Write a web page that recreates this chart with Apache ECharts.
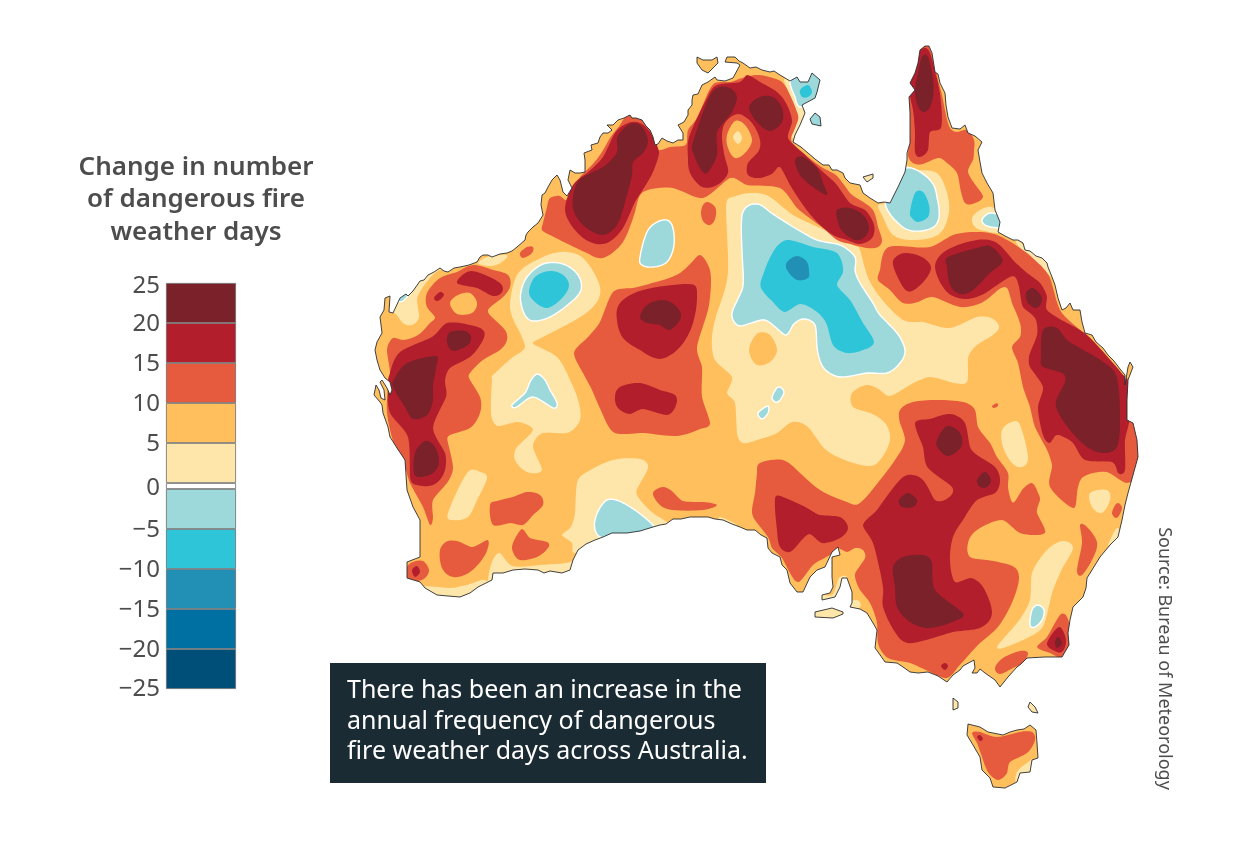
<!DOCTYPE html>
<html>
<head>
<meta charset="utf-8">
<title>Change in number of dangerous fire weather days</title>
<script src="https://cdn.jsdelivr.net/npm/echarts@6/dist/echarts.min.js"></script>
<style>html,body{margin:0;padding:0;background:#fff}#main{width:1247px;height:863px}</style>
</head>
<body>
<div id="main"></div>
<script type="text/javascript">
// legend scale, the white band around zero takes 0.75 of a unit
var tickLabels = ['25', '20', '15', '10', '5', '0', '\u22125', '\u221210', '\u221215', '\u221220', '\u221225'];
var tickValues = [25.375, 20.625, 15.625, 10.625, 5.625, 0.125, -5.125, -10.125, -15.125, -20.125, -25];
var positiveSteps = [0.75, 5, 5, 5, 5, 5];
var negativeSteps = [-5, -5, -5, -5, -5];
var positiveColors = ['#ffffff', '#FEE6AA', '#FEBF5C', '#E65A3D', '#B21E2C', '#7B2129'];
var negativeColors = ['#9DD9DB', '#2FC5D9', '#2290B5', '#0070A3', '#004F78'];

// everything below is in map grid units (about 5 km each), origin at the map's north west corner
var coast = [
  [[5,310],[7,302],[12,293],[10,277],[14,270],[15,258],[20,256],[19,272],[23,273],[30,258],[36,254],[38,256],[43,251],[50,241],[54,240],[58,235],[64,232],[70,228],[74,231],[78,232],[84,228],[90,227],[99,225],[107,222],[110,217],[113,215],[118,215],[122,217],[130,214],[137,213],[142,211],[147,207],[155,200],[156,195],[158,192],[163,187],[168,183],[173,175],[171,165],[172,155],[175,153],[178,147],[182,140],[187,135],[190,140],[193,152],[197,156],[202,148],[198,140],[200,130],[205,133],[210,133],[215,132],[215,120],[214,113],[222,110],[221,105],[228,103],[230,97],[233,93],[238,93],[242,90],[237,85],[243,85],[248,80],[254,78],[260,75],[262,78],[266,78],[272,80],[276,86],[280,90],[283,97],[285,105],[288,104],[292,98],[297,101],[303,103],[308,100],[313,100],[313,93],[308,85],[314,82],[318,75],[318,70],[322,65],[322,60],[323,55],[328,54],[332,45],[338,42],[345,37],[347,40],[355,41],[363,38],[370,25],[367,23],[355,22],[357,17],[365,17],[369,21],[373,23],[380,28],[386,27],[392,30],[400,32],[404,31],[410,35],[420,41],[427,37],[430,42],[438,42],[442,33],[450,40],[447,52],[445,58],[432,65],[435,73],[430,85],[425,95],[423,102],[431,107],[438,113],[445,119],[453,125],[459,125],[462,130],[467,130],[473,133],[475,138],[480,143],[490,145],[493,153],[500,158],[508,163],[514,162],[520,163],[524,155],[528,147],[535,132],[537,120],[537,113],[540,103],[540,73],[539,57],[545,50],[540,43],[545,33],[548,23],[550,10],[555,6],[559,6],[562,13],[565,32],[568,34],[570,43],[575,53],[576,65],[578,77],[582,88],[590,89],[595,85],[598,93],[605,96],[612,102],[608,110],[610,122],[612,133],[617,143],[623,153],[625,170],[630,182],[628,192],[635,196],[643,200],[648,200],[653,203],[655,210],[660,211],[666,216],[672,218],[677,223],[678,227],[682,237],[685,245],[688,258],[692,270],[696,268],[700,263],[703,270],[710,270],[712,282],[715,293],[722,295],[726,302],[733,308],[738,315],[744,321],[750,329],[755,335],[755,345],[758,327],[760,322],[763,327],[758,340],[757,360],[757,380],[763,383],[767,400],[768,417],[763,435],[758,453],[755,465],[752,480],[748,497],[740,505],[730,517],[722,530],[717,538],[716,548],[713,557],[703,567],[700,580],[698,593],[699,605],[692,617],[675,617],[657,618],[651,624],[647,627],[638,637],[630,647],[625,640],[615,633],[610,629],[607,633],[602,633],[605,628],[604,620],[593,626],[590,630],[583,635],[577,642],[568,636],[558,632],[548,633],[540,632],[533,627],[527,623],[515,622],[508,612],[505,608],[507,590],[503,583],[497,573],[490,569],[480,567],[482,563],[482,552],[477,538],[472,538],[470,547],[465,557],[452,560],[452,555],[460,553],[463,547],[462,537],[462,517],[470,515],[468,507],[462,512],[455,527],[447,530],[440,537],[433,552],[427,552],[420,543],[417,530],[412,525],[410,517],[402,513],[398,508],[397,498],[391,495],[385,490],[377,490],[370,487],[362,484],[353,480],[345,479],[338,477],[320,477],[311,479],[303,479],[296,484],[290,485],[283,487],[270,491],[257,493],[242,493],[233,497],[225,500],[216,504],[208,510],[203,520],[200,530],[192,533],[180,531],[174,533],[168,530],[155,529],[143,530],[133,533],[123,533],[122,540],[108,547],[100,553],[90,557],[78,556],[67,555],[55,548],[50,542],[37,538],[37,522],[50,517],[50,490],[50,480],[43,467],[37,450],[36,435],[35,420],[27,408],[20,397],[18,387],[13,373],[12,365],[10,362],[4,355],[6,345],[9,350],[11,358],[15,360],[14,350],[10,342],[12,340],[17,348],[20,355],[22,350],[20,342],[15,338],[10,330],[7,320]],
  [[327,17],[333,20],[342,20],[347,17],[348,23],[338,33],[332,30],[327,23]],
  [[445,73],[450,77],[451,86],[442,84],[440,79]],
  [[493,137],[503,134],[503,138],[497,142]],
  [[445,572],[462,568],[473,572],[473,574],[463,578],[445,577]],
  [[583,658],[588,662],[588,668],[583,670]],
  [[660,662],[665,667],[668,673],[662,672],[658,667]],
  [[598,684],[610,687],[618,692],[623,693],[633,695],[640,692],[647,690],[654,689],[660,685],[666,690],[667,703],[668,718],[662,720],[660,732],[650,733],[647,742],[635,748],[623,747],[620,738],[612,730],[610,717],[603,705],[597,695]]
];

var band0to5 = [
  [[140,267],[147,235],[167,220],[190,212],[213,218],[230,247],[223,267],[200,283],[167,300],[165,305],[187,317],[200,340],[208,360],[210,380],[197,393],[173,393],[163,407],[172,430],[157,432],[145,420],[147,407],[163,390],[147,382],[128,386],[121,373],[122,340],[123,335],[143,317],[155,307],[147,287]],
  [[20,272],[30,260],[43,250],[50,240],[58,232],[77,226],[65,233],[53,247],[47,260],[49,277],[42,285],[33,283],[25,273]],
  [[108,223],[117,217],[137,215],[132,222],[122,226],[113,225]],
  [[78,473],[97,433],[110,432],[117,438],[107,460],[98,477],[83,480]],
  [[192,495],[200,488],[205,473],[207,443],[217,432],[243,420],[270,419],[278,428],[268,447],[268,457],[283,473],[297,482],[300,490],[253,500],[213,510],[203,513],[202,503]],
  [[117,543],[122,522],[130,513],[142,526],[170,525],[200,522],[208,513],[213,513],[213,553],[117,553]],
  [[53,547],[80,548],[100,544],[115,540],[120,553],[67,563]],
  [[356,168],[363,157],[383,153],[400,157],[423,175],[450,188],[483,205],[490,210],[497,235],[510,257],[533,280],[553,282],[580,288],[607,277],[623,279],[629,288],[620,297],[607,305],[598,318],[597,342],[580,342],[560,337],[540,345],[520,356],[510,350],[497,345],[482,353],[483,367],[500,373],[515,383],[520,400],[510,420],[497,426],[470,418],[453,407],[438,387],[422,382],[407,393],[387,400],[373,403],[367,393],[365,363],[357,353],[362,337],[345,320],[342,297],[347,273],[358,233]],
  [[537,125],[543,130],[567,133],[578,157],[578,177],[568,195],[543,200],[523,195],[513,177],[508,165],[518,163],[527,150],[535,133]],
  [[602,178],[610,170],[622,167],[632,177],[632,192],[615,191],[605,187]],
  [[414,40],[423,42],[437,65],[437,75],[425,97],[422,95],[428,78],[422,60]],
  [[632,390],[642,382],[650,385],[658,417],[652,427],[642,423],[633,407]],
  [[720,453],[737,450],[740,460],[732,473],[722,467]],
  [[628,605],[647,583],[660,560],[662,533],[677,510],[693,501],[703,508],[693,527],[683,550],[678,570],[672,588],[657,598],[633,608]],
  [[738,505],[747,488],[752,497],[742,503]],
  [[647,732],[657,723],[665,720],[664,744],[647,744]],
  [[350,477],[367,485],[360,488],[350,483]],
  [[462,555],[467,543],[470,537],[477,537],[470,552],[465,558],[452,562],[450,555]],
  [[473,565],[487,560],[490,567],[475,574]],
  [[645,198],[657,208],[677,222],[682,237],[667,223],[650,208]],
  [[443,570],[462,566],[475,570],[475,576],[463,580],[443,579]],
  [[581,656],[590,660],[590,670],[581,672]],
  [[658,660],[667,665],[670,675],[660,674],[656,667]],
  [[491,135],[505,132],[505,140],[497,144]]
];

var bandMinus5to0 = [
  [[151,252],[157,237],[173,224],[193,224],[208,235],[211,250],[200,263],[180,277],[163,281],[155,275],[151,263]],
  [[270,217],[278,190],[293,180],[302,185],[304,205],[297,222],[283,227],[272,225]],
  [[372,175],[387,164],[400,172],[420,185],[447,200],[470,205],[485,217],[485,230],[490,243],[503,263],[510,275],[527,293],[535,310],[530,323],[517,333],[497,333],[470,337],[453,327],[447,307],[445,285],[433,279],[423,285],[415,295],[395,280],[370,286],[362,273],[372,250],[373,230]],
  [[402,358],[408,347],[414,352],[408,362]],
  [[388,373],[398,366],[398,373],[392,379]],
  [[142,365],[155,353],[160,342],[167,334],[175,340],[180,350],[187,363],[183,368],[163,357],[147,367]],
  [[225,480],[237,460],[257,465],[283,485],[277,490],[257,497],[230,497]],
  [[515,160],[535,128],[560,140],[567,157],[569,177],[562,188],[543,191],[528,183]],
  [[612,180],[620,173],[632,177],[632,187],[617,186]],
  [[660,585],[662,570],[668,565],[674,570],[672,580],[665,587]],
  [[420,42],[427,36],[438,40],[442,31],[453,40],[449,55],[446,61],[430,67],[425,57]],
  [[441,70],[453,74],[454,89],[440,87],[437,78]],
  [[28,260],[35,253],[43,249],[33,261]]
];
var bandMinus10toMinus5 = [
  [[159,252],[165,237],[180,231],[193,235],[199,245],[193,257],[178,268],[165,262]],
  [[393,235],[403,212],[417,200],[443,207],[467,213],[473,232],[467,245],[480,260],[493,283],[504,302],[493,310],[477,313],[463,305],[457,285],[447,272],[430,264],[415,272],[403,262],[391,248]],
  [[540,172],[545,153],[553,152],[559,165],[558,177],[548,182],[542,178]],
  [[430,50],[438,45],[442,52],[438,57],[432,57]]
];
var bandMinus15toMinus10 = [
  [[417,222],[427,216],[437,222],[439,232],[438,238],[427,240],[417,230]]
];

var band10to15 = [
  // Kimberley, Arnhem Land and the Gulf
  [[180,158],[190,156],[196,160],[203,150],[210,137],[222,125],[232,112],[240,98],[250,85],[260,72],[275,78],[285,95],[287,110],[300,107],[313,106],[317,102],[318,90],[327,78],[337,55],[345,43],[360,42],[372,38],[387,35],[403,38],[413,43],[420,55],[427,72],[428,80],[423,93],[422,102],[438,117],[453,128],[467,136],[480,153],[490,160],[503,170],[508,187],[512,200],[508,207],[497,208],[480,204],[467,200],[453,188],[427,168],[410,148],[377,145],[360,138],[333,158],[303,148],[273,152],[265,172],[253,202],[233,218],[217,213],[200,205],[180,195],[172,190],[173,183],[177,167]],
  // Queensland and the east coast
  [[508,240],[510,230],[512,218],[517,208],[530,206],[560,207],[583,195],[607,192],[627,195],[650,208],[667,222],[680,238],[690,270],[710,290],[727,307],[743,327],[753,335],[770,353],[775,387],[775,427],[757,443],[737,432],[713,437],[707,453],[703,468],[680,447],[682,427],[677,410],[665,387],[660,367],[653,347],[648,323],[642,307],[650,297],[650,283],[642,263],[637,248],[628,250],[613,262],[590,267],[563,257],[548,262],[533,263],[520,250]],
  // Cape York
  [[540,75],[538,50],[538,35],[545,25],[548,5],[558,5],[565,25],[568,40],[572,55],[576,75],[580,88],[587,92],[597,90],[604,100],[604,110],[603,120],[598,132],[607,147],[613,157],[605,163],[595,163],[590,147],[587,133],[577,123],[568,118],[553,124],[543,123],[538,115],[540,100]],
  [[150,213],[157,207],[163,207],[162,213],[153,218]],
  // Western Australia
  [[57,253],[70,238],[87,232],[103,225],[123,230],[138,235],[140,247],[132,258],[118,270],[125,280],[135,290],[137,300],[130,310],[113,320],[100,333],[100,340],[110,357],[110,373],[100,388],[80,395],[78,403],[83,427],[77,443],[63,460],[63,477],[60,485],[53,467],[40,443],[35,427],[25,407],[18,380],[17,360],[20,333],[17,310],[23,298],[33,300],[48,295],[60,283],[65,277],[57,267]],
  // central
  [[204,313],[215,300],[230,282],[243,252],[263,248],[293,240],[310,233],[322,222],[330,215],[338,225],[341,240],[338,270],[327,307],[332,327],[332,357],[340,383],[330,389],[307,396],[273,393],[245,393],[233,375],[222,350],[213,333]],
  // south east
  [[490,550],[500,563],[507,583],[508,603],[518,618],[540,623],[560,632],[577,638],[588,627],[597,617],[610,603],[627,588],[640,567],[648,545],[648,532],[640,525],[617,520],[600,517],[598,503],[607,490],[632,480],[650,493],[675,493],[667,473],[670,460],[668,453],[662,443],[652,450],[643,463],[638,447],[638,433],[627,417],[620,403],[608,387],[605,370],[593,362],[567,360],[543,362],[530,370],[530,383],[535,400],[527,417],[510,440],[490,463],[477,462],[450,450],[430,433],[413,420],[390,423],[387,433],[385,453],[382,470],[385,480],[398,497],[402,508],[412,518],[420,533],[429,542],[443,525],[460,515],[467,508],[477,512],[485,508],[493,510],[495,518],[487,530],[485,537]],
  [[120,465],[127,461],[143,457],[157,452],[170,455],[173,465],[163,475],[153,485],[140,483],[123,485]],
  [[152,489],[160,498],[177,502],[178,508],[167,517],[150,520],[143,512],[143,503]],
  [[70,510],[78,501],[90,502],[103,507],[118,500],[115,515],[100,532],[83,537],[72,528]],
  [[37,527],[43,522],[53,521],[59,530],[55,538],[47,541],[37,538]],
  [[283,453],[293,447],[303,452],[313,461],[333,462],[347,465],[333,470],[303,470],[290,465]],
  [[338,162],[345,167],[346,175],[343,183],[338,185],[333,181],[331,173],[333,165]],
  [[622,366],[627,363],[628,366],[624,368]],
  [[710,485],[717,487],[727,502],[723,518],[712,535],[707,530],[712,503]],
  [[742,473],[747,463],[752,468],[747,478]],
  [[667,607],[677,597],[690,575],[697,577],[701,593],[700,607],[695,619],[680,613]],
  [[625,628],[633,618],[650,611],[658,613],[653,623],[643,628],[630,634]],
  [[602,693],[610,692],[627,697],[650,692],[662,692],[665,700],[657,713],[640,722],[637,733],[628,740],[618,732],[612,717],[607,703]]
];
var band15to20 = [
  [[195,170],[203,145],[217,133],[233,117],[245,93],[258,83],[270,83],[280,92],[288,108],[288,118],[280,138],[265,162],[253,188],[237,203],[220,202],[205,190]],
  [[318,102],[323,87],[337,58],[347,45],[370,42],[377,35],[390,42],[407,52],[417,65],[422,82],[418,98],[433,113],[453,132],[467,145],[480,163],[495,170],[504,185],[502,198],[490,204],[477,200],[463,195],[447,182],[433,165],[420,145],[410,127],[403,133],[390,138],[378,135],[378,123],[388,112],[390,100],[382,83],[368,74],[355,83],[352,98],[355,118],[358,133],[347,145],[332,147],[320,133],[318,118]],
  [[539,43],[550,11],[559,11],[565,32],[568,43],[571,63],[571,88],[560,92],[558,110],[550,117],[545,112],[545,93],[543,70]],
  [[523,225],[527,216],[537,213],[552,217],[561,227],[555,240],[542,251],[533,247]],
  [[565,227],[577,210],[607,200],[627,203],[643,220],[657,233],[670,243],[677,257],[677,270],[697,283],[717,295],[743,323],[753,335],[758,343],[760,377],[755,400],[755,430],[748,433],[742,422],[715,420],[703,403],[687,395],[680,403],[673,395],[668,367],[673,347],[660,327],[660,313],[667,295],[665,278],[653,267],[650,253],[643,236],[617,252],[597,259],[577,252]],
  [[20,333],[30,312],[62,297],[77,283],[100,285],[113,290],[113,300],[100,317],[80,328],[75,342],[76,357],[63,388],[75,413],[74,433],[63,445],[47,445],[40,437],[38,397],[20,373],[18,345]],
  [[87,243],[97,232],[110,233],[130,243],[132,252],[123,256],[107,248]],
  [[64,258],[70,252],[74,255],[68,261]],
  [[247,280],[250,263],[273,250],[318,244],[327,253],[323,283],[310,307],[290,319],[270,310],[253,298]],
  [[245,357],[250,347],[270,343],[290,350],[305,355],[306,365],[297,375],[273,369],[260,374],[248,368]],
  [[545,383],[560,379],[580,374],[595,383],[600,407],[610,417],[625,427],[630,440],[625,453],[607,460],[593,480],[583,497],[580,520],[585,542],[600,538],[613,547],[622,573],[610,588],[583,592],[543,603],[527,595],[513,567],[513,547],[503,503],[493,485],[507,470],[533,437],[553,440],[565,460],[578,458],[582,447],[558,428],[553,407]],
  [[405,459],[413,457],[437,468],[450,475],[470,477],[478,488],[470,498],[452,503],[440,494],[430,502],[420,512],[410,507],[407,490]],
  [[42,530],[47,526],[50,532],[45,537]],
  [[677,603],[689,587],[696,600],[692,612],[683,610]],
  [[571,626],[575,623],[578,626],[575,630]],
  [[607,697],[610,695],[613,699],[610,701]]
];
var band20to25 = [
  [[205,148],[213,137],[233,127],[247,112],[247,98],[258,85],[270,85],[278,100],[273,113],[263,122],[262,135],[255,162],[247,185],[232,195],[213,185],[203,168]],
  [[323,102],[337,62],[347,48],[360,48],[367,58],[360,75],[347,92],[347,115],[337,133],[330,128],[323,112]],
  [[379,67],[390,57],[403,57],[412,68],[412,82],[400,91],[387,82]],
  [[425,120],[433,117],[447,128],[453,143],[457,155],[443,147],[430,135]],
  [[467,170],[480,168],[493,175],[499,187],[495,197],[485,200],[473,192],[468,182]],
  [[552,17],[558,17],[563,40],[563,57],[558,70],[550,70],[545,53],[548,33]],
  [[577,227],[578,217],[607,208],[620,206],[630,215],[632,223],[620,233],[603,250],[590,254],[580,245]],
  [[656,253],[663,248],[672,258],[667,268],[658,263]],
  [[673,290],[687,288],[697,300],[717,312],[740,327],[748,343],[750,380],[747,407],[733,413],[717,407],[700,390],[687,370],[687,358],[695,342],[692,333],[673,327],[671,317]],
  [[77,302],[80,292],[95,291],[101,297],[98,305],[83,311]],
  [[25,338],[37,323],[65,316],[67,323],[63,345],[63,360],[57,375],[43,379],[35,367],[23,347]],
  [[45,413],[55,401],[65,407],[69,422],[63,433],[50,437],[44,433]],
  [[270,277],[277,265],[292,260],[305,265],[311,277],[300,290],[290,285],[277,283]],
  [[567,400],[577,386],[590,393],[591,407],[578,416],[568,408]],
  [[607,440],[615,432],[621,440],[617,447],[610,447]],
  [[529,460],[538,453],[547,460],[543,467],[532,467]],
  [[523,527],[533,517],[553,515],[562,523],[565,550],[592,572],[587,580],[560,588],[540,582],[527,567],[525,547]],
  [[685,602],[688,597],[692,603],[687,608]]
];
// low spots enclosed by higher values
var holes5to10 = [
  [[380,305],[388,293],[400,295],[407,310],[400,322],[387,325],[380,315]],
  [[357,95],[365,81],[375,85],[382,100],[375,113],[365,118],[358,108]],
  [[80,263],[88,255],[100,253],[107,263],[102,273],[87,274]]
];
var holes0to5 = [
  [[363,97],[368,91],[372,98],[368,104]]
];

// rounds the traced contours, the curve still goes through every traced point
function smooth(ring) {
  var pts = ring;
  for (var k = 0; k < 3; k++) {
    var next = [], n = pts.length;
    for (var i = 0; i < n; i++) {
      var p = pts[(i + n - 1) % n], a = pts[i], b = pts[(i + 1) % n], q = pts[(i + 2) % n];
      next.push(a);
      next.push([(9 * (a[0] + b[0]) - p[0] - q[0]) / 16, (9 * (a[1] + b[1]) - p[1] - q[1]) / 16]);
    }
    pts = next;
  }
  return pts;
}
function area(ring) {
  var s = 0;
  for (var i = 0; i < ring.length; i++) {
    var a = ring[i], b = ring[(i + 1) % ring.length];
    s += a[0] * b[1] - b[0] * a[1];
  }
  return s;
}
function closed(ring) { return ring.concat([ring[0]]); }

var layers = [
  {name: 'land', rings: coast, value: 7, color: positiveColors[2], raw: true},
  {name: 'b0', rings: band0to5, value: 2.5, color: positiveColors[1]},
  {name: 'n1', rings: bandMinus5to0, value: -2.5, color: negativeColors[0], border: '#ffffff'},
  {name: 'n2', rings: bandMinus10toMinus5, value: -7.5, color: negativeColors[1]},
  {name: 'n3', rings: bandMinus15toMinus10, value: -12.5, color: negativeColors[2]},
  {name: 'p3', rings: band10to15, value: 12.5, color: positiveColors[3]},
  {name: 'p4', rings: band15to20, value: 17.5, color: positiveColors[4]},
  {name: 'p5', rings: band20to25, value: 22.5, color: positiveColors[5]},
  {name: 'h2', rings: holes5to10, value: 7.5, color: positiveColors[2]},
  {name: 'h1', rings: holes0to5, value: 2.5, color: positiveColors[1]}
];

var features = layers.map(function (l) {
  return {
    type: 'Feature',
    properties: {name: l.name},
    geometry: {type: 'MultiPolygon', coordinates: l.rings.map(function (r) {
      return [closed(l.raw ? r : smooth(r))];
    })}
  };
});
// sea: white sheet with the coast cut out, so contours stop at the shoreline
var sheet = [[0, 0], [780, 0], [780, 760], [0, 760]];
var cutouts = coast.map(function (r) {
  var same = area(r) * area(sheet) > 0;
  return closed(same ? r.slice().reverse() : r);
});
features.push({type: 'Feature', properties: {name: 'sea'},
  geometry: {type: 'Polygon', coordinates: [closed(sheet)].concat(cutouts)}});
features.push({type: 'Feature', properties: {name: 'shore'},
  geometry: {type: 'MultiPolygon', coordinates: coast.map(function (r) { return [closed(r)]; })}});

echarts.registerMap('australia', {type: 'FeatureCollection', features: features});

var regionData = layers.map(function (l) {
  return {name: l.name, value: l.value, itemStyle: {
    areaColor: l.color, borderColor: l.border || l.color, borderWidth: l.border ? 1.4 : 0
  }};
});
regionData.push({name: 'sea', value: 0, itemStyle: {areaColor: '#ffffff', borderWidth: 0}});
regionData.push({name: 'shore', value: 0, itemStyle: {areaColor: 'rgba(0,0,0,0)', borderColor: '#2b2b2b', borderWidth: 0.9}});

function bandSeries(steps, colors, tag) {
  return steps.map(function (v, i) {
    return {
      type: 'bar', name: tag + i, stack: 'scale', barWidth: '100%', silent: true,
      data: [v],
      itemStyle: {color: colors[i], borderColor: '#6b6b6b', borderWidth: 0.8}
    };
  });
}

var myChart = echarts.init(document.getElementById('main'));
var option = {
  animation: false,
  backgroundColor: '#ffffff',
  title: {
    text: 'Change in number\nof dangerous fire\nweather days',
    left: 191, top: 146, textAlign: 'center',
    textStyle: {fontFamily: 'Noto Sans', fontSize: 26, fontWeight: 600, color: '#4d4d4d', lineHeight: 32.5}
  },
  grid: {left: 166, top: 283, width: 70, height: 406},
  xAxis: {type: 'category', data: ['days'], show: false},
  yAxis: {
    type: 'value', min: -25, max: 25.75,
    axisLine: {show: false}, splitLine: {show: false}, axisTick: {show: false},
    axisLabel: {
      customValues: tickValues, margin: 6, color: '#4d4d4d', fontFamily: 'Noto Sans', fontSize: 24,
      formatter: function (v) { return tickLabels[tickValues.indexOf(v)]; }
    }
  },
  series: bandSeries(positiveSteps, positiveColors, 'up').concat(bandSeries(negativeSteps, negativeColors, 'down')).concat([{
    type: 'map', map: 'australia', silent: true, roam: false, selectedMode: false,
    left: 370, top: 40, width: 780, height: 760,
    boundingCoords: [[0, 0], [780, 760]],
    projection: {project: function (p) { return p; }, unproject: function (p) { return p; }},
    label: {show: false}, emphasis: {disabled: true},
    data: regionData
  }]),
  graphic: [
    {type: 'rect', z: 100, shape: {x: 330, y: 663, width: 436, height: 120}, style: {fill: '#1A2B33'}},
    {type: 'text', z: 101, x: 347, y: 676, style: {
      text: 'There has been an increase in the\nannual frequency of dangerous\nfire weather days across Australia.',
      fill: '#ffffff', font: '25px "Noto Sans"', lineHeight: 30.5
    }},
    {type: 'text', z: 101, x: 1164, y: 658.5, rotation: -Math.PI / 2, style: {
      text: 'Source: Bureau of Meteorology', fill: '#4d4d4d', font: '18px "Noto Sans"',
      align: 'center', verticalAlign: 'middle'
    }}
  ]
};
myChart.setOption(option);
</script>
</body>
</html>
